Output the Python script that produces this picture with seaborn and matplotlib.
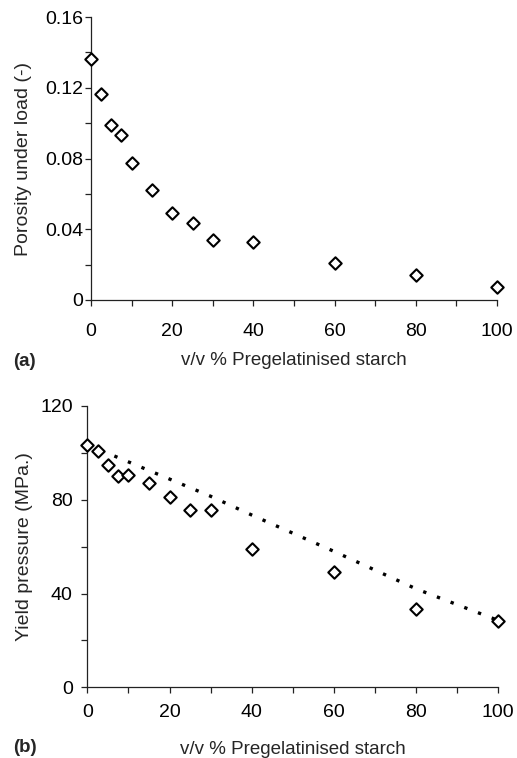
import matplotlib
matplotlib.use("Agg")
import matplotlib.pyplot as plt
import seaborn as sns
import pandas as pd
from matplotlib.ticker import MultipleLocator, FuncFormatter

# ---- data ----
starch_pct = [0, 2.5, 5, 7.5, 10, 15, 20, 25, 30, 40, 60, 80, 100]
porosity = [0.1364, 0.1166, 0.0991, 0.0934, 0.0775, 0.0623, 0.049, 0.0434,
            0.034, 0.033, 0.0211, 0.014, 0.0075]
yield_pressure = [103.5, 100.8, 94.7, 90.1, 90.6, 87.0, 81.2, 75.5, 75.6,
                  58.9, 49.0, 33.3, 28.2]
fit_x = [0, 30, 40, 60, 80, 100]
fit_y = [103.5, 81.5, 73.5, 58.0, 42.0, 28.5]

sns.set_style("ticks")
plt.rcParams["font.family"] = ["Liberation Sans", "DejaVu Sans"]

df = pd.DataFrame({"x": starch_pct, "por": porosity, "yp": yield_pressure})
fit = pd.DataFrame({"x": fit_x, "y": fit_y})

FS = 13.5
TFS = 14

fig = plt.figure(figsize=(5.17, 7.58), dpi=100)
ax1 = fig.add_axes([91 / 517, 1 - 300 / 758, 406 / 517, 283 / 758])
ax2 = fig.add_axes([87.3 / 517, 1 - 687.3 / 758, 411 / 517, 281.3 / 758])

mk = dict(marker="D", s=40, facecolor="white", edgecolor="black",
          linewidth=1.5, clip_on=False, zorder=5, legend=False)

sns.scatterplot(data=df, x="x", y="por", ax=ax1, **mk)
sns.lineplot(data=fit, x="x", y="y", ax=ax2, color="black",
             linestyle=(0, (1, 3.4)), linewidth=2.4, clip_on=False, zorder=4)
sns.scatterplot(data=df, x="x", y="yp", ax=ax2, **mk)

for ax in (ax1, ax2):
    ax.set_xlim(0, 100)
    ax.xaxis.set_major_locator(MultipleLocator(20))
    ax.xaxis.set_minor_locator(MultipleLocator(10))
    for s in ("top", "right"):
        ax.spines[s].set_visible(False)
    for s in ("left", "bottom"):
        ax.spines[s].set_color("#222222")
        ax.spines[s].set_linewidth(0.9)
    ax.tick_params(which="both", color="#222222", width=0.9, labelsize=TFS,
                   labelcolor="black")
    ax.set_xlabel("v/v % Pregelatinised starch", fontsize=FS)

ax1.set_ylim(0, 0.16)
ax1.yaxis.set_major_locator(MultipleLocator(0.04))
ax1.yaxis.set_minor_locator(MultipleLocator(0.02))
ax1.yaxis.set_major_formatter(FuncFormatter(lambda v, p: "0" if abs(v) < 1e-9 else f"{v:.2f}"))
ax1.tick_params(axis="y", which="both", length=4.5, pad=1)
ax1.tick_params(axis="x", which="both", length=4.5, pad=12)
ax1.set_ylabel("Porosity under load (-)", fontsize=TFS)
ax1.yaxis.set_label_coords(-0.145, 0.5)
ax1.xaxis.set_label_coords(0.5, -0.182)

ax2.set_ylim(0, 120)
ax2.yaxis.set_major_locator(MultipleLocator(40))
ax2.yaxis.set_minor_locator(MultipleLocator(20))
ax2.tick_params(axis="y", which="both", length=4.5, pad=6)
ax2.tick_params(axis="x", which="both", length=4.5, pad=7.5)
ax2.set_ylabel("Yield pressure (MPa.)", fontsize=TFS)
ax2.yaxis.set_label_coords(-0.132, 0.5)
ax2.xaxis.set_label_coords(0.5, -0.19)

fig.text(13 / 517, 1 - 361 / 758, "(a)", fontsize=FS, fontweight="bold",
         ha="left", va="center")
fig.text(13 / 517, 1 - 747 / 758, "(b)", fontsize=FS, fontweight="bold",
         ha="left", va="center")

fig.savefig("out.png", dpi=100)
